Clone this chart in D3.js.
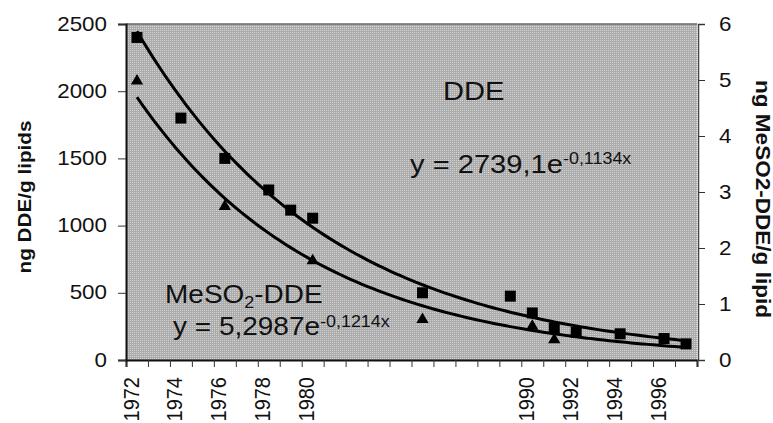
<!DOCTYPE html>
<html>
<head>
<meta charset="utf-8">
<script src="https://cdn.jsdelivr.net/npm/d3@7/dist/d3.min.js"></script>
<style>
  body { margin: 0; background: #fff; }
  text { font-family: "Liberation Sans", Arial, sans-serif; fill: #111; }
</style>
</head>
<body>
<div id="chart"></div>
<script>
const width = 773;
const height = 423;

// x axis: one tick per year, labels only on some
const tickYears = [1972, 1973, 1974, 1975, 1976, 1977, 1978, 1979, 1980, 1981, 1982, 1983, 1984,
    1985, 1986, 1987, 1988, 1989, 1990, 1991, 1992, 1993, 1994, 1995, 1996, 1997, 1998];
const labelYears = [1972, 1974, 1976, 1978, 1980, 1990, 1992, 1994, 1996];
const leftTicks = [0, 500, 1000, 1500, 2000, 2500];
const rightTicks = [0, 1, 2, 3, 4, 5, 6];

// DDE (ng/g lipids, left axis), squares
const ddeYears = [1972.5, 1974.5, 1976.5, 1978.5, 1979.5, 1980.5, 1985.5, 1989.5, 1990.5, 1991.5, 1992.5, 1994.5, 1996.5, 1997.5];
const ddeValues = [2400, 1800, 1500, 1265, 1115, 1055, 500, 475, 350, 240, 205, 195, 160, 120];

// MeSO2-DDE (ng/g lipid, right axis), triangles
const mesoYears = [1972.5, 1976.5, 1980.5, 1985.5, 1990.5, 1991.5];
const mesoValues = [5.0, 2.76, 1.79, 0.74, 0.62, 0.38];

// exponential trendlines as printed on the chart (x = 1 for the first year)
const ddeFit = { a: 2739.1, b: -0.1134 };
const mesoFit = { a: 5.2987, b: -0.1214 };
const fitStartYear = 1971.5;
const fitSteps = d3.range(1, 26.01, 0.25);

const stretch = 1.12;

const svg = d3.select("#chart")
    .append("svg")
    .attr("width", width)
    .attr("height", height);

const x = d3.scaleLinear().domain([1972, 1998]).range([126, 697]);
const yLeft = d3.scaleLinear().domain([0, 2500]).range([360, 24]);
const yRight = d3.scaleLinear().domain([0, 6]).range([360, 24]);

// dotted grey plot background
const defs = svg.append("defs");
const pat = defs.append("pattern")
    .attr("id", "dots")
    .attr("width", 2)
    .attr("height", 2)
    .attr("patternUnits", "userSpaceOnUse");
pat.append("rect").attr("width", 2).attr("height", 2).attr("fill", "#ababab");
pat.append("rect").attr("width", 1).attr("height", 1).attr("fill", "#d4d4d4");

svg.append("rect")
    .attr("x", x(1972))
    .attr("y", yLeft(2500))
    .attr("width", x(1998) - x(1972))
    .attr("height", yLeft(0) - yLeft(2500))
    .attr("fill", "url(#dots)");

svg.append("line")
    .attr("x1", x(1972)).attr("x2", x(1998))
    .attr("y1", yLeft(2500)).attr("y2", yLeft(2500))
    .attr("stroke", "#666")
    .attr("stroke-width", 1.5);

// axes
const xAxis = svg.append("g")
    .attr("transform", `translate(0,${yLeft(0)})`)
    .call(d3.axisBottom(x).tickValues(tickYears).tickSize(7).tickFormat(""));

xAxis.selectAll("text").remove();
xAxis.selectAll(".tick")
    .filter(d => labelYears.includes(d))
    .append("text")
    .attr("transform", `translate(4,17) scale(${stretch},1) rotate(-90)`)
    .attr("text-anchor", "end")
    .attr("dy", "0.36em")
    .style("font-size", "20px")
    .text(d => d);

const leftAxis = svg.append("g")
    .attr("transform", `translate(${x(1972)},0)`)
    .call(d3.axisLeft(yLeft).tickValues(leftTicks).tickSize(8).tickFormat(""));
leftAxis.selectAll(".tick")
    .append("text")
    .attr("transform", `translate(-19,-1) scale(${stretch},1)`)
    .attr("text-anchor", "end")
    .attr("dy", "0.35em")
    .style("font-size", "20px")
    .text(d => d);

const rightAxis = svg.append("g")
    .attr("transform", `translate(${x(1998) + 1},0)`)
    .call(d3.axisRight(yRight).tickValues(rightTicks).tickSize(7).tickFormat(""));
rightAxis.selectAll(".tick")
    .append("text")
    .attr("transform", `translate(21,-1) scale(${stretch},1)`)
    .attr("text-anchor", "start")
    .attr("dy", "0.35em")
    .style("font-size", "20px")
    .text(d => d);

svg.selectAll(".domain").attr("stroke", "#111").attr("stroke-width", 2);
rightAxis.select(".domain").attr("stroke", "#444").attr("stroke-width", 1.5);
svg.selectAll(".tick line").attr("stroke", "#333").attr("stroke-width", 1);

// axis titles
svg.append("text")
    .attr("transform", "translate(31,197) rotate(-90)")
    .attr("text-anchor", "middle")
    .attr("textLength", 153)
    .attr("lengthAdjust", "spacingAndGlyphs")
    .style("font-size", "19px")
    .style("font-weight", "bold")
    .text("ng DDE/g lipids");

svg.append("text")
    .attr("transform", "translate(756,199) rotate(90)")
    .attr("text-anchor", "middle")
    .attr("textLength", 238)
    .attr("lengthAdjust", "spacingAndGlyphs")
    .style("font-size", "20px")
    .style("font-weight", "bold")
    .text("ng MeSO2-DDE/g lipid");

// trendlines
const ddeLine = d3.line()
    .x(i => x(fitStartYear + i))
    .y(i => yLeft(ddeFit.a * Math.exp(ddeFit.b * i)))
    .curve(d3.curveBasis);
const mesoLine = d3.line()
    .x(i => x(fitStartYear + i))
    .y(i => yRight(mesoFit.a * Math.exp(mesoFit.b * i)))
    .curve(d3.curveBasis);

svg.append("path")
    .attr("d", ddeLine(fitSteps))
    .attr("fill", "none")
    .attr("stroke", "#000")
    .attr("stroke-width", 3);
svg.append("path")
    .attr("d", mesoLine(fitSteps))
    .attr("fill", "none")
    .attr("stroke", "#000")
    .attr("stroke-width", 3);

// markers
const squareSize = 11;
svg.selectAll(".sq")
    .data(ddeYears.map((yr, i) => ({ yr, v: ddeValues[i] })))
    .enter()
    .append("rect")
    .attr("class", "sq")
    .attr("x", d => x(d.yr) - squareSize / 2)
    .attr("y", d => yLeft(d.v) - squareSize / 2)
    .attr("width", squareSize)
    .attr("height", squareSize)
    .attr("fill", "#000");

const tri = d3.symbol().type(d3.symbolTriangle).size(65);
svg.selectAll(".tri")
    .data(mesoYears.map((yr, i) => ({ yr, v: mesoValues[i] })))
    .enter()
    .append("path")
    .attr("class", "tri")
    .attr("d", tri)
    .attr("transform", d => `translate(${x(d.yr)},${yRight(d.v) + 1})`)
    .attr("fill", "#000");

// annotations
function note(px, py, parts) {
    const t = svg.append("text")
        .attr("transform", `translate(${px},${py}) scale(${stretch},1)`);
    parts.forEach(p => {
        t.append("tspan")
            .attr("dy", p.dy || 0)
            .style("font-size", p.size + "px")
            .text(p.t);
    });
    return t;
}

note(443, 100, [{ t: "DDE", size: 26 }]);
note(410, 173, [
    { t: "y = 2739,1e", size: 26 },
    { t: "-0,1134x", size: 16, dy: -9 }
]);
note(165, 303, [
    { t: "MeSO", size: 25 },
    { t: "2", size: 16, dy: 5 },
    { t: "-DDE", size: 25, dy: -5 }
]);
note(173, 335, [
    { t: "y = 5,2987e", size: 25 },
    { t: "-0,1214x", size: 16, dy: -8 }
]);
</script>
</body>
</html>
